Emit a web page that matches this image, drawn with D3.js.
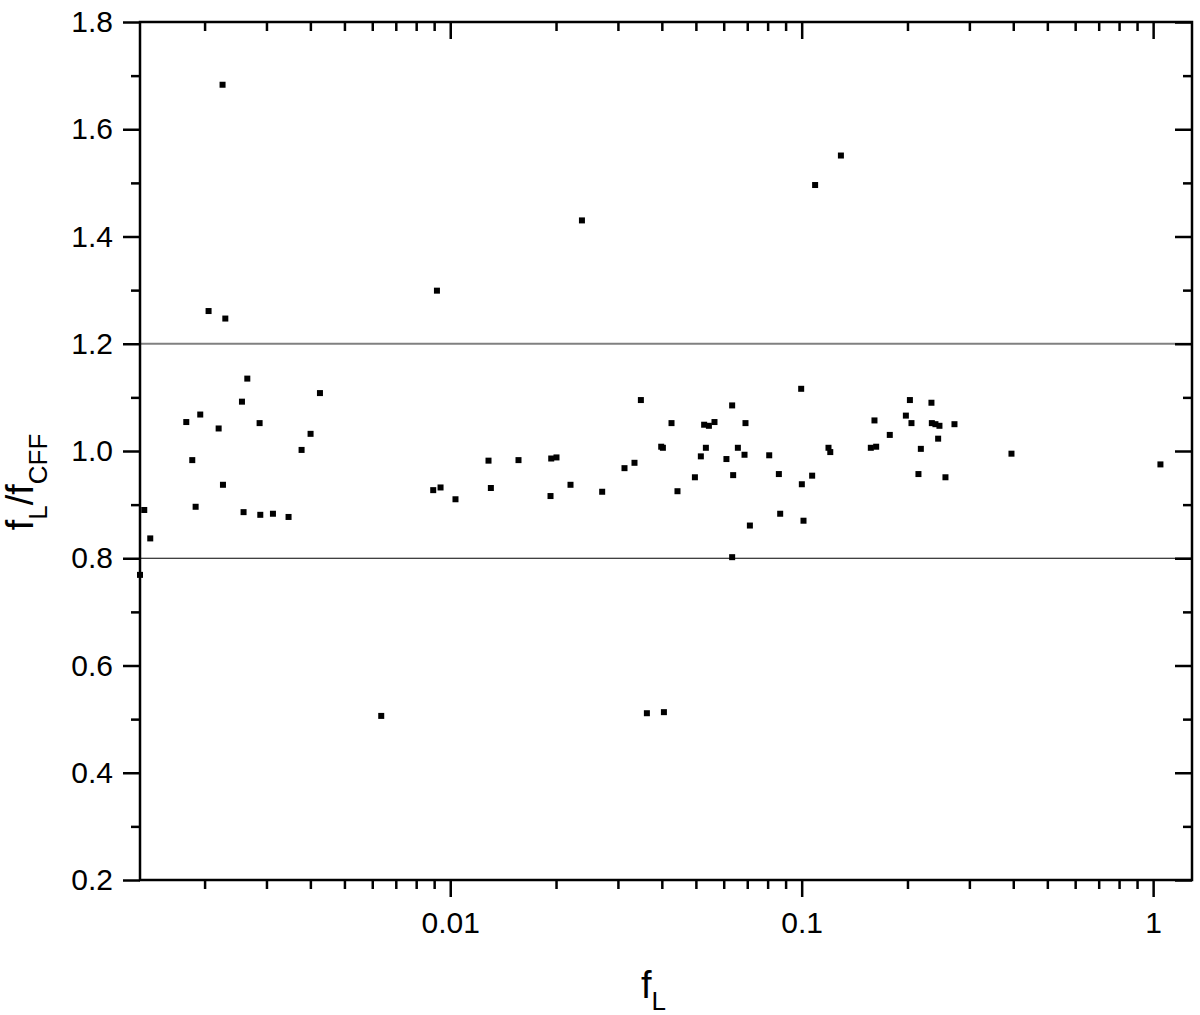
<!DOCTYPE html>
<html>
<head>
<meta charset="utf-8">
<script src="https://cdn.jsdelivr.net/npm/d3@7"></script>
<style>
  body { margin: 0; background: #fff; }
  svg text { font-family: Arial, "Liberation Sans", sans-serif; fill: #000; }
</style>
</head>
<body>
<svg id="chart"></svg>
<script>
// f_L values (log axis) and the ratio f_L / f_CFF
const fL = [
  0.00131, 0.001347, 0.001401, 0.001774, 0.001845, 0.001886, 0.001944, 0.002053,
  0.002193, 0.00225, 0.002256, 0.002291, 0.002555, 0.002582, 0.002646, 0.002868,
  0.002881, 0.00313, 0.003467, 0.003776, 0.004005, 0.004259, 0.006363, 0.008945,
  0.009166, 0.009385, 0.01035, 0.01285, 0.01305, 0.01564, 0.01929, 0.01938,
  0.02006, 0.02199, 0.0237, 0.02706, 0.03132, 0.03344, 0.03487, 0.03627,
  0.03984, 0.04028, 0.04055, 0.04262, 0.04432, 0.04968, 0.05165, 0.05278,
  0.05338, 0.05445, 0.05648, 0.06108, 0.06341, 0.06341, 0.06383, 0.06583,
  0.06876, 0.0692, 0.07122, 0.08084, 0.08611, 0.08686, 0.09967, 0.1001,
  0.1012, 0.1071, 0.1092, 0.1192, 0.1206, 0.1293, 0.1573, 0.1611,
  0.1629, 0.1781, 0.1979, 0.2032, 0.2053, 0.2149, 0.2183, 0.234,
  0.2346, 0.2402, 0.2466, 0.2445, 0.2565, 0.2721, 0.3953, 1.049
];
const ratio = [
  0.769, 0.89, 0.837, 1.054, 0.983, 0.896, 1.068, 1.261,
  1.042, 1.683, 0.937, 1.247, 1.092, 0.886, 1.135, 1.052,
  0.881, 0.883, 0.877, 1.002, 1.032, 1.108, 0.506, 0.927,
  1.299, 0.932, 0.91, 0.982, 0.931, 0.983, 0.916, 0.986,
  0.988, 0.937, 1.43, 0.924, 0.968, 0.978, 1.095, 0.511,
  1.008, 1.006, 0.513, 1.052, 0.925, 0.951, 0.99, 1.049,
  1.006, 1.047, 1.054, 0.985, 1.085, 0.802, 0.955, 1.006,
  0.993, 1.052, 0.861, 0.992, 0.957, 0.883, 1.116, 0.938,
  0.87, 0.954, 1.496, 1.006, 0.998, 1.551, 1.006, 1.057,
  1.008, 1.03, 1.066, 1.095, 1.052, 0.957, 1.004, 1.09,
  1.052, 1.05, 1.047, 1.023, 0.951, 1.05, 0.995, 0.975
];
const refLines = [1.2, 0.8];
const refColors = ["#808080", "#000"];
const xMajor = [0.01, 0.1, 1];
const xMajorLabels = ["0.01", "0.1", "1"];
const yMajor = [0.2, 0.4, 0.6, 0.8, 1.0, 1.2, 1.4, 1.6, 1.8];
const yMinor = [0.3, 0.5, 0.7, 0.9, 1.1, 1.3, 1.5, 1.7];

const width = 1200;
const height = 1015;
const margin = { left: 140, right: 8, top: 22, bottom: 135 };
const plotW = width - margin.left - margin.right;
const plotH = height - margin.top - margin.bottom;

const svg = d3.select("#chart").attr("width", width).attr("height", height);
const g = svg.append("g").attr("transform", `translate(${margin.left},${margin.top})`);

const x = d3.scaleLog().domain([0.00131, 1.29]).range([0, plotW]);
const y = d3.scaleLinear().domain([0.2, 1.8]).range([plotH, 0]);

// minor log ticks: 2..9 times each decade, inside the domain
const xMinor = [];
[0.001, 0.01, 0.1].forEach((d) => {
  for (let k = 2; k <= 9; k++) {
    const v = d * k;
    if (v >= x.domain()[0] && v <= x.domain()[1]) xMinor.push(v);
  }
});

// reference lines
g.selectAll(".ref")
  .data(refLines)
  .join("line")
  .attr("class", "ref")
  .attr("x1", 0)
  .attr("x2", plotW)
  .attr("y1", (d) => y(d))
  .attr("y2", (d) => y(d))
  .attr("stroke", (d, i) => refColors[i])
  .attr("stroke-width", (d, i) => (i === 0 ? 1.8 : 1.2));

// points
const pts = fL.map((d, i) => ({ fx: d, r: ratio[i] }));
const s = 6;
g.selectAll(".pt")
  .data(pts)
  .join("rect")
  .attr("class", "pt")
  .attr("x", (d) => x(d.fx) - s / 2)
  .attr("y", (d) => y(d.r) - s / 2)
  .attr("width", s)
  .attr("height", s)
  .attr("fill", "#000");

// axes
function styleAxis(sel) {
  sel.select(".domain").remove();
  sel.selectAll(".tick line").attr("stroke", "#000").attr("stroke-width", 2.5);
  sel.selectAll(".tick text").attr("font-size", 30);
}

const bottomMajor = g.append("g")
  .attr("transform", `translate(0,${plotH})`)
  .call(d3.axisBottom(x).tickValues(xMajor).tickSize(17).tickPadding(15)
    .tickFormat((d, i) => xMajorLabels[i]));
styleAxis(bottomMajor);

const bottomMinor = g.append("g")
  .attr("transform", `translate(0,${plotH})`)
  .call(d3.axisBottom(x).tickValues(xMinor).tickSize(9).tickFormat(""));
styleAxis(bottomMinor);

const topMajor = g.append("g")
  .call(d3.axisTop(x).tickValues(xMajor).tickSize(-17).tickFormat(""));
styleAxis(topMajor);
const topMinor = g.append("g")
  .call(d3.axisTop(x).tickValues(xMinor).tickSize(-9).tickFormat(""));
styleAxis(topMinor);

const leftMajor = g.append("g")
  .call(d3.axisLeft(y).tickValues(yMajor).tickSize(17).tickPadding(10)
    .tickFormat(d3.format(".1f")));
styleAxis(leftMajor);
const leftMinor = g.append("g")
  .call(d3.axisLeft(y).tickValues(yMinor).tickSize(9).tickFormat(""));
styleAxis(leftMinor);

const rightMajor = g.append("g")
  .attr("transform", `translate(${plotW},0)`)
  .call(d3.axisRight(y).tickValues(yMajor).tickSize(-17).tickFormat(""));
styleAxis(rightMajor);
const rightMinor = g.append("g")
  .attr("transform", `translate(${plotW},0)`)
  .call(d3.axisRight(y).tickValues(yMinor).tickSize(-9).tickFormat(""));
styleAxis(rightMinor);

// frame
g.append("rect")
  .attr("width", plotW)
  .attr("height", plotH)
  .attr("fill", "none")
  .attr("stroke", "#000")
  .attr("stroke-width", 2.5);

// axis titles
const xt = svg.append("text")
  .attr("x", 641)
  .attr("y", 998)
  .attr("font-size", 38);
xt.append("tspan").text("f");
xt.append("tspan").attr("font-size", 26).attr("dy", 12).text("L");

const yt = svg.append("text")
  .attr("transform", "translate(33,482) rotate(-90)")
  .attr("text-anchor", "middle")
  .attr("font-size", 38);
yt.append("tspan").text("f");
yt.append("tspan").attr("font-size", 26).attr("dy", 14).text("L");
yt.append("tspan").attr("dy", -14).text("/f");
yt.append("tspan").attr("font-size", 26).attr("dy", 14).text("CFF");
</script>
</body>
</html>
